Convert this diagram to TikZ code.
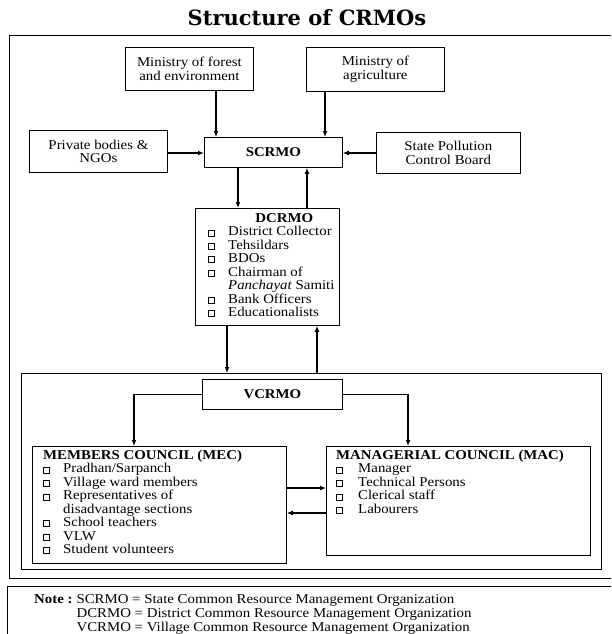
\documentclass[tikz,border=0pt]{standalone}
\usepackage{fontspec}
\setmainfont{Liberation Serif}[FakeStretch=1.1]
\newfontfamily\titlefont{DejaVu Serif}
\usetikzlibrary{arrows.meta}
\newcommand\bx{{\setlength\fboxsep{0pt}\setlength\fboxrule{0.5pt}\raisebox{0.3pt}{\fbox{\rule{0pt}{5.5pt}\hspace{5.5pt}}}}}
\begin{document}
\begin{tikzpicture}[x=1pt,y=-1pt,
  box/.style={draw,line width=0.8pt,inner sep=0pt,anchor=north west},
  lst/.style={anchor=north west,inner sep=0pt},
  conn/.style={line width=1.3pt},
  arr/.style={conn,-{Latex[length=6pt,width=5pt]}},
  every node/.style={font=\fontsize{13.5}{13.4}\selectfont}]
\useasboundingbox (0,0) rectangle (611,634);
% title
\node[font=\titlefont\bfseries\fontsize{21}{24}\selectfont] (title) at (307,18) {Structure of CRMOs};
% outer frame and note box
\draw[line width=0.8pt] (611,35) -- (9,35) -- (9,578) -- (611,578);
\draw[line width=0.8pt] (611,586) -- (7,586) -- (7,634);
% top boxes
\node[box,minimum width=128,minimum height=43] (forest) at (125,47) {};
\node[align=center] (forestt) at (forest.center) {Ministry of forest\\and environment};
\node[box,minimum width=138,minimum height=44] (agri) at (306,47) {};
\node[align=center] (agrit) at (agri.center) {Ministry of\\agriculture};
\node[box,minimum width=138,minimum height=42] (priv) at (29,130) {};
\node[align=center] (privt) at (priv.center) {Private bodies \&\\NGOs};
\node[box,minimum width=138,minimum height=30] (scrmo) at (204,137) {};
\node (scrmot) at (scrmo.center) {\textbf{SCRMO}};
\node[box,minimum width=144,minimum height=41] (state) at (376,132) {};
\node[align=center] (statet) at (state.center) {State Pollution\\Control Board};
% DCRMO
\node[box,minimum width=144,minimum height=117] (dc) at (195,208) {};
\node[lst] (dct) at (208,213) {\begin{tabular}{@{}p{20pt}@{}l@{}}
 & \multicolumn{1}{c@{}}{\textbf{DCRMO}}\\
\bx & District Collector\\
\bx & Tehsildars\\
\bx & BDOs\\
\bx & Chairman of\\
 & \textit{Panchayat} Samiti\\
\bx & Bank Officers\\
\bx & Educationalists
\end{tabular}};
% village frame
\node[box,minimum width=580,minimum height=196] (vf) at (21,373) {};
\node[box,minimum width=140,minimum height=30] (vc) at (202,379) {};
\node (vct) at (vc.center) {\textbf{VCRMO}};
\node[box,minimum width=254,minimum height=117] (mec) at (32,446) {};
\node[lst] (mect) at (43,450) {\begin{tabular}{@{}p{20pt}@{}l@{}}
\multicolumn{2}{@{}l@{}}{\textbf{MEMBERS COUNCIL (MEC)}}\\
\bx & Pradhan/Sarpanch\\
\bx & Village ward members\\
\bx & Representatives of\\
 & disadvantage sections\\
\bx & School teachers\\
\bx & VLW\\
\bx & Student volunteers
\end{tabular}};
\node[box,minimum width=264,minimum height=109] (mac) at (326,446) {};
\node[lst] (mact) at (336,450) {\begin{tabular}{@{}p{22pt}@{}l@{}}
\multicolumn{2}{@{}l@{}}{\textbf{MANAGERIAL COUNCIL (MAC)}}\\
\bx & Manager\\
\bx & Technical Persons\\
\bx & Clerical staff\\
\bx & Labourers
\end{tabular}};
% note
\node[lst] (note) at (34,594) {\begin{tabular}{@{}l@{\hspace{4pt}}l@{}}
\textbf{Note :} & SCRMO = State Common Resource Management Organization\\[0.6pt]
 & DCRMO = District Common Resource Management Organization\\[0.6pt]
 & VCRMO = Village Common Resource Management Organization
\end{tabular}};
% helper coordinates
\coordinate (xa) at (216,0);
\coordinate (xb) at (325,0);
\coordinate (xc) at (238,0);
\coordinate (xd) at (307,0);
\coordinate (xe) at (227,0);
\coordinate (xf) at (317,0);
\coordinate (xg) at (134,0);
\coordinate (xh) at (408,0);
\coordinate (ya) at (0,153);
\coordinate (yb) at (0,488);
\coordinate (yc) at (0,513);
% connectors
\draw[arr] (xa |- forest.south) -- (xa |- scrmo.north);
\draw[arr] (xb |- agri.south) -- (xb |- scrmo.north);
\draw[arr] (priv.east |- ya) -- (scrmo.west |- ya);
\draw[arr] (state.west |- ya) -- (scrmo.east |- ya);
\draw[arr] (xc |- scrmo.south) -- (xc |- dc.north);
\draw[arr] (xd |- dc.north) -- (xd |- scrmo.south);
\draw[arr] (xe |- dc.south) -- (xe |- vf.north);
\draw[arr] (xf |- vf.north) -- (xf |- dc.south);
\draw[arr] (vc.west) -| (xg |- mec.north);
\draw[arr] (vc.east) -| (xh |- mac.north);
\draw[arr] (mec.east |- yb) -- (mac.west |- yb);
\draw[arr] (mac.west |- yc) -- (mec.east |- yc);
\end{tikzpicture}
\end{document}
